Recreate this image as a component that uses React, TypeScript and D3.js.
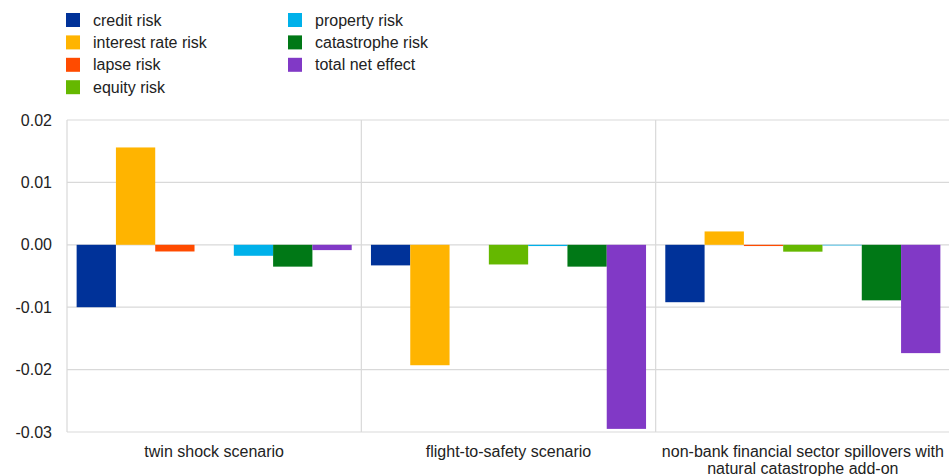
import React from "react";
import * as d3 from "d3";

const categories = [
  ["twin shock scenario"],
  ["flight-to-safety scenario"],
  ["non-bank financial sector spillovers with", "natural catastrophe add-on"],
];
const seriesNames = [
  "credit risk",
  "interest rate risk",
  "lapse risk",
  "equity risk",
  "property risk",
  "catastrophe risk",
  "total net effect",
];
const seriesColors = ["#003299", "#FFB400", "#FF4B00", "#65B800", "#00B1EA", "#007816", "#8139C6"];
// values per category, in series order
const twinShock = [-0.01, 0.0156, -0.00107, 0, -0.00176, -0.0035, -0.00085];
const flightToSafety = [-0.0033, -0.0193, 0, -0.00315, -0.0002, -0.0035, -0.0295];
const nonBank = [-0.0092, 0.00214, -0.0002, -0.0011, -0.0001, -0.0089, -0.01736];
const yTicks = [0.02, 0.01, 0, -0.01, -0.02, -0.03];

const W = 949;
const H = 476;
const left = 67;
const right = 950;
const top = 120;
const bottom = 432;

export default function App() {
  const values = [twinShock, flightToSafety, nonBank];
  const catKeys = categories.map((c) => c.join(" "));
  const x0 = d3.scaleBand<string>().domain(catKeys).range([left, right]).padding(0);
  const x1 = d3
    .scaleBand<string>()
    .domain(seriesNames)
    .range([0, x0.bandwidth()])
    .paddingInner(0)
    .paddingOuter(0.245);
  const y = d3.scaleLinear().domain([-0.03, 0.02]).range([bottom, top]);
  const font = "Liberation Sans, Arial, sans-serif";
  const grid = "#d9d9d9";
  const fmt = (t: number) => d3.format(".2f")(t).replace("\u2212", "-");

  const legendPos = seriesNames.map((_, i) => {
    const col = i < 4 ? 0 : 1;
    const row = i < 4 ? i : i - 4;
    return { x: col === 0 ? 66 : 288, y: 20 + row * 22.4 };
  });

  return (
    <div style={{ position: "fixed", left: 0, top: 0 }}>
      <svg width={W} height={H} style={{ display: "block", background: "#fff" }}>
        {/* legend */}
        {seriesNames.map((s, i) => (
          <g key={s} transform={`translate(${legendPos[i].x},${legendPos[i].y})`}>
            <rect x={0} y={-7} width={14} height={14} fill={seriesColors[i]} />
            <text x={27} y={0} dy="0.35em" fontFamily={font} fontSize={16} fill="#222">
              {s}
            </text>
          </g>
        ))}
        {/* gridlines */}
        {yTicks.map((t) => (
          <line key={t} x1={left} x2={right} y1={y(t)} y2={y(t)} stroke={grid} strokeWidth={1.2} />
        ))}
        {/* vertical separators */}
        {catKeys.map((k) => (
          <line key={k} x1={x0(k)!} x2={x0(k)!} y1={top} y2={bottom} stroke={grid} strokeWidth={1.2} />
        ))}
        {/* y tick labels */}
        {yTicks.map((t) => (
          <text
            key={t}
            x={52}
            y={y(t)}
            dy="0.35em"
            textAnchor="end"
            fontFamily={font}
            fontSize={16}
            fill="#222"
          >
            {fmt(t)}
          </text>
        ))}
        {/* bars */}
        {catKeys.map((k, ci) =>
          seriesNames.map((s, si) => {
            const v = values[ci][si];
            if (v === 0) return null;
            const y0 = y(Math.max(0, v));
            const y1 = y(Math.min(0, v));
            return (
              <rect
                key={k + s}
                x={x0(k)! + x1(s)!}
                y={y0}
                width={x1.bandwidth()}
                height={Math.max(0.5, y1 - y0)}
                fill={seriesColors[si]}
              />
            );
          })
        )}
        {/* category labels */}
        {categories.map((lines, ci) => (
          <text
            key={ci}
            x={x0(catKeys[ci])! + x0.bandwidth() / 2}
            y={457}
            textAnchor="middle"
            fontFamily={font}
            fontSize={16}
            fill="#222"
          >
            {lines.map((l, li) => (
              <tspan key={li} x={x0(catKeys[ci])! + x0.bandwidth() / 2} dy={li === 0 ? 0 : 17}>
                {l}
              </tspan>
            ))}
          </text>
        ))}
      </svg>
    </div>
  );
}
